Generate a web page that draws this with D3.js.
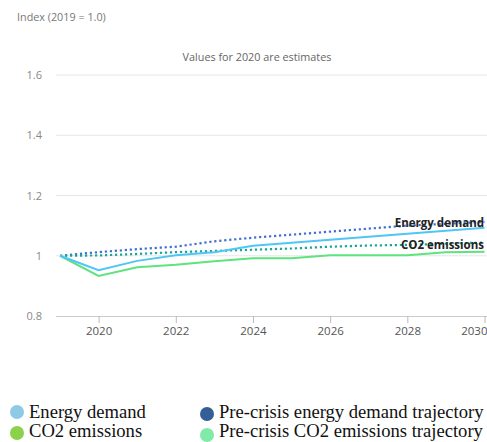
<!DOCTYPE html>
<html><head><meta charset="utf-8">
<script src="https://cdn.jsdelivr.net/npm/d3@7"></script>
<style>body{margin:0;background:#fff}svg{display:block}</style>
</head><body>
<script>
const years = [2019,2020,2021,2022,2023,2024,2025,2026,2027,2028,2029,2030];
const energyDemand = [1.0,0.952,0.983,1.002,1.012,1.033,1.043,1.053,1.063,1.073,1.083,1.093];
const co2Emissions = [1.0,0.933,0.962,0.970,0.982,0.992,0.992,1.002,1.002,1.002,1.012,1.013];
const preEnergy = [1.0,1.012,1.022,1.030,1.048,1.060,1.070,1.080,1.090,1.100,1.106,1.112];
const preCo2 = [1.0,1.001,1.006,1.012,1.016,1.020,1.024,1.030,1.034,1.036,1.040,1.044];
const yTicks = [0.8,1,1.2,1.4,1.6];
const xTicks = [2020,2022,2024,2026,2028,2030];
const legendItems = ["Energy demand","CO2 emissions","Pre-crisis energy demand trajectory","Pre-crisis CO2 emissions trajectory"];

const W=487,H=442;
const svg=d3.select("body").append("svg").attr("width",W).attr("height",H);
const x=d3.scaleLinear().domain([2019,2030]).range([60,484.5]);
const y=d3.scaleLinear().domain([0.8,1.6]).range([316,75]);
const sans="'Open Sans', sans-serif";

svg.append("text").attr("x",17).attr("y",21).attr("font-family",sans).attr("font-size",10.8).attr("fill","#777").text("Index (2019 = 1.0)");
svg.append("text").attr("x",257).attr("y",61).attr("text-anchor","middle").attr("font-family",sans).attr("font-size",10.8).attr("fill","#666").text("Values for 2020 are estimates");

// grid
svg.append("g").selectAll("line").data(yTicks.filter(d=>d>0.8)).join("line")
  .attr("x1",56).attr("x2",487).attr("y1",d=>y(d)).attr("y2",d=>y(d)).attr("stroke","#e6e6e6");
svg.append("g").selectAll("text").data(yTicks).join("text")
  .attr("x",42).attr("y",d=>y(d)+4).attr("text-anchor","end").attr("font-family",sans).attr("font-size",11).attr("fill","#888").text(d=>d);

const xa=svg.append("g").attr("transform","translate(0,316)")
  .call(d3.axisBottom(x).tickValues(xTicks).tickFormat(d3.format("d")).tickSize(7).tickSizeOuter(0));
xa.select(".domain").attr("stroke","#ccc").attr("d","M56,0.5H487");
xa.selectAll(".tick line").attr("stroke","#bbb");
xa.selectAll(".tick text").attr("font-family",sans).attr("font-size",11.5).attr("fill","#555").attr("dy","0.8em");
xa.selectAll(".tick text").filter(d=>d===2030).attr("text-anchor","end").attr("x",487-x(2030));

const line=d3.line().x((d,i)=>x(years[i])).y(d=>y(d));
const series=[
  {v:preEnergy,c:"#3f6fd0",dash:"2.2,2.8",w:2.2},
  {v:preCo2,c:"#1ba595",dash:"2.2,2.8",w:2.2},
  {v:co2Emissions,c:"#5ee37f",dash:null,w:2},
  {v:energyDemand,c:"#4fc6f6",dash:null,w:2}
];
series.forEach(s=>{
  svg.append("path").attr("d",line(s.v)).attr("fill","none").attr("stroke",s.c)
    .attr("stroke-width",s.w).attr("stroke-dasharray",s.dash);
});

svg.append("text").attr("x",484).attr("y",y(preEnergy[11])+5).attr("text-anchor","end").attr("font-family",sans).attr("font-weight","bold").attr("font-size",11.5).attr("fill","#222").text("Energy demand");
svg.append("text").attr("x",484).attr("y",y(preCo2[11])+7).attr("text-anchor","end").attr("font-family",sans).attr("font-weight","bold").attr("font-size",11.5).attr("fill","#222").text("CO2 emissions");

const lcol=["#8ecae6","#8bd14a","#335f99","#80eaa8"];
const lpos=[[17,412],[17,433],[207,414],[207,435]];
legendItems.forEach((t,i)=>{
  const g=svg.append("g");
  g.append("circle").attr("cx",lpos[i][0]).attr("cy",lpos[i][1]).attr("r",7).attr("fill",lcol[i]);
  g.append("text").attr("x",lpos[i][0]+12).attr("y",i%2===0?418:437).attr("font-family","'Liberation Serif','Times New Roman',serif").attr("font-size",18.6).attr("fill","#111").text(t);
});
</script>
</body></html>
